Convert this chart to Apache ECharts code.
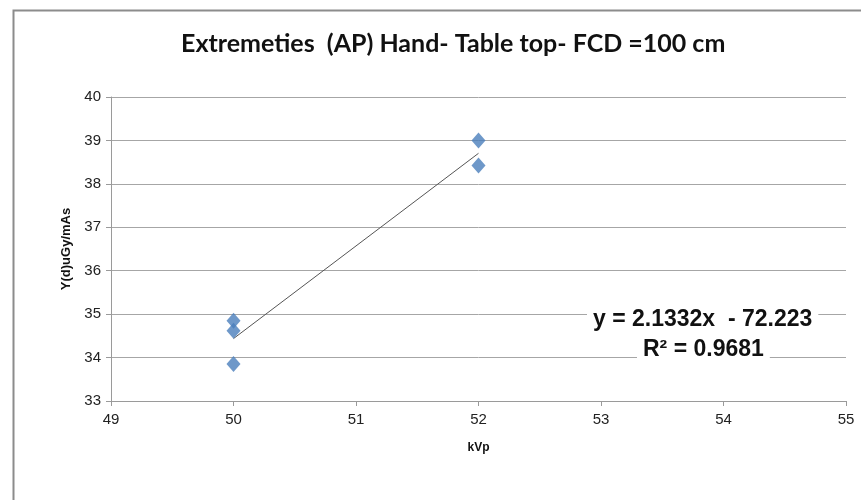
<!DOCTYPE html>
<html>
<head>
<meta charset="utf-8">
<script src="https://cdn.jsdelivr.net/npm/echarts@6/dist/echarts.min.js"></script>
<style>
  html, body { margin: 0; padding: 0; background: #fff; }
  #chart { width: 861px; height: 500px; }
</style>
</head>
<body>
<div id="chart"></div>
<script>
// Measured dose per mAs at each tube voltage
const kvpValues = [50, 50, 50, 52, 52];
const doseValues = [34.85, 34.62, 33.85, 39.0, 38.42];

// Linear fit reported on the chart
const fitSlope = 2.1332;
const fitIntercept = -72.223;
const fitR2 = 0.9681;
const fitRange = [50, 52];

const xTicks = [49, 50, 51, 52, 53, 54, 55];
const yTicks = [33, 34, 35, 36, 37, 38, 39, 40];

const scatterData = kvpValues.map((k, i) => [k, doseValues[i]]);
const fitData = fitRange.map(k => [k, fitSlope * k + fitIntercept]);

const chart = echarts.init(document.getElementById('chart'), null, { renderer: 'canvas' });

chart.setOption({
  backgroundColor: '#ffffff',
  animation: false,
  title: {
    text: 'Extremeties  (AP) Hand- Table top- FCD =100 cm',
    left: 176,
    top: 26,
    textStyle: { fontFamily: 'Lato', fontWeight: 'bold', fontSize: 25, color: '#111' }
  },
  graphic: [
    {
      type: 'rect',
      shape: { x: 13.5, y: 10.5, width: 900, height: 600 },
      style: { fill: 'none', stroke: '#8c8c8c', lineWidth: 2 },
      silent: true
    },
    {
      type: 'text',
      left: 587,
      top: 307,
      z: 10,
      style: {
        text: 'y = ' + fitSlope + 'x  - ' + Math.abs(fitIntercept),
        font: 'bold 23px "Liberation Sans", Arial',
        fill: '#111',
        backgroundColor: '#fff',
        padding: [1, 6]
      }
    },
    {
      type: 'text',
      left: 637,
      top: 337,
      z: 10,
      style: {
        text: 'R\u00b2 = ' + fitR2,
        font: 'bold 23px "Liberation Sans", Arial',
        fill: '#111',
        backgroundColor: '#fff',
        padding: [1, 6]
      }
    }
  ],
  grid: { left: 111, top: 97, right: 15, bottom: 99 },
  xAxis: {
    type: 'value',
    min: xTicks[0],
    max: xTicks[xTicks.length - 1],
    interval: 1,
    name: 'kVp',
    nameLocation: 'middle',
    nameGap: 41,
    nameTextStyle: { fontFamily: '"Liberation Sans", Arial', fontWeight: 'bold', fontSize: 12, color: '#111' },
    axisLine: { show: true, lineStyle: { color: '#9a9a9a', width: 1 } },
    axisTick: { show: true, length: 5, inside: false, lineStyle: { color: '#9a9a9a' } },
    axisLabel: { fontFamily: '"Liberation Sans", Arial', fontSize: 15, color: '#222', margin: 11 },
    splitLine: { show: false }
  },
  yAxis: {
    type: 'value',
    min: yTicks[0],
    max: yTicks[yTicks.length - 1],
    interval: 1,
    name: 'Y(d)uGy/mAs',
    nameLocation: 'middle',
    nameGap: 36,
    nameRotate: 90,
    nameTextStyle: { fontFamily: '"Liberation Sans", Arial', fontWeight: 'bold', fontSize: 13, color: '#111' },
    axisLine: { show: true, lineStyle: { color: '#9a9a9a', width: 1 } },
    axisTick: { show: true, length: 5, lineStyle: { color: '#9a9a9a' } },
    axisLabel: { fontFamily: '"Liberation Sans", Arial', fontSize: 15, color: '#222', margin: 10 },
    splitLine: { show: true, lineStyle: { color: '#a6a6a6', width: 1 } }
  },
  series: [
    {
      type: 'line',
      data: fitData,
      symbol: 'none',
      lineStyle: { color: '#555', width: 1 },
      z: 2
    },
    {
      type: 'scatter',
      data: scatterData,
      symbol: 'diamond',
      symbolSize: [14, 16],
      itemStyle: { color: '#4a7ebb' },
      z: 3
    }
  ]
});
</script>
</body>
</html>
